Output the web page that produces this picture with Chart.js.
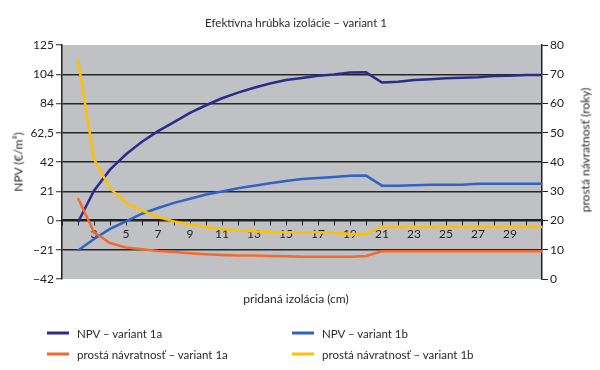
<!DOCTYPE html>
<html>
<head>
<meta charset="utf-8">
<script src="https://cdn.jsdelivr.net/npm/chart.js@4.4.1/dist/chart.umd.min.js"></script>
<style>
  html, body { margin: 0; padding: 0; background: #fff; }
  #wrap { position: relative; width: 600px; height: 370px; font-family: Lato, "Noto Sans", sans-serif; color: #2a2a2a; }
  canvas { position: absolute; left: 0; top: 0; }
  .lbl { position: absolute; white-space: nowrap; transform: translate(-50%, -50%); }
  .rot { transform: translate(-50%, -50%) rotate(-90deg); }
  .leg { position: absolute; white-space: nowrap; font-size: 11.5px; display: flex; align-items: center; transform: translateY(-50%); }
  .leg i { display: inline-block; width: 22px; height: 2.5px; margin-right: 8px; }
</style>
</head>
<body>
<div id="wrap">
  <canvas id="c" width="600" height="370"></canvas>
  <div class="lbl" id="title" style="left:296px; top:22px; font-size:11.5px;"></div>
  <div class="lbl" id="xtitle" style="left:296px; top:298px; font-size:12px;"></div>
  <div class="lbl rot" id="ytitle" style="left:18px; top:162px; font-size:12px;"></div>
  <div class="lbl rot" id="y1title" style="left:585px; top:150px; font-size:12px;"></div>
  <div id="legend"></div>
</div>
<script>
// ---- data ----
const chartTitle = 'Efektívna hrúbka izolácie – variant 1';
const xTitle = 'pridaná izolácia (cm)';
const yTitle = 'NPV (€/m²)';
const y1Title = 'prostá návratnosť (roky)';

const categories = ['1','2','3','4','5','6','7','8','9','10','11','12','13','14','15','16','17','18','19','20','21','22','23','24','25','26','27','28','29','30','31'];
const xTickShown = ['3','5','7','9','11','13','15','17','19','21','23','25','27','29'];

const seriesNames = ['NPV – variant 1a', 'NPV – variant 1b', 'prostá návratnosť – variant 1a', 'prostá návratnosť – variant 1b'];

const npv1a = [null, -1.5, 21, 36, 47, 56, 63.5, 70, 76.5, 82, 87, 91, 94.5, 97.5, 100, 101.5, 103, 104, 105.3, 105.5, 98.2, 98.8, 100, 100.6, 101.2, 101.7, 102, 102.8, 103, 103.6, 103.6];
const npv1b = [null, -21.7, -13.4, -6.2, -0.8, 4.6, 8.7, 12.3, 15.3, 18.3, 20.5, 22.8, 24.6, 26.3, 27.9, 29.3, 30, 30.8, 31.7, 31.8, 24.6, 24.6, 24.9, 25.3, 25.3, 25.3, 26, 26, 26, 26, 26];
const payback1a = [null, 27.7, 16, 12.3, 10.8, 10.2, 9.6, 9.2, 8.8, 8.5, 8.2, 8.0, 8.0, 7.9, 7.8, 7.6, 7.6, 7.6, 7.6, 7.9, 9.5, 9.5, 9.5, 9.5, 9.5, 9.5, 9.5, 9.5, 9.5, 9.5, 9.5];
const payback1b = [null, 75, 41, 31, 26, 23.4, 21.2, 19.7, 18.6, 17.8, 17.1, 16.6, 16.3, 16.1, 16, 16, 16, 15.8, 15.4, 15.4, 17.8, 17.8, 17.8, 17.8, 17.8, 17.8, 17.8, 17.8, 17.8, 17.8, 17.8];

const yTickLabels = ['−42', '−21', '0', '21', '42', '62,5', '84', '104', '125'];
const y1TickLabels = ['0', '10', '20', '30', '40', '50', '60', '70', '80'];

// ---- styles ----
const colors = ['#2f2a8c', '#2f64c4', '#f46a2c', '#ffc000'];
const FONT = 'Lato, "Noto Sans", sans-serif';

document.getElementById('title').textContent = chartTitle;
document.getElementById('xtitle').textContent = xTitle;
document.getElementById('ytitle').textContent = yTitle;
document.getElementById('y1title').textContent = y1Title;

const legendPos = [[47, 333], [292, 333], [47, 354], [292, 354]];
const legend = document.getElementById('legend');
seriesNames.forEach((n, i) => {
  const d = document.createElement('div');
  d.className = 'leg';
  d.style.left = legendPos[i][0] + 'px';
  d.style.top = legendPos[i][1] + 'px';
  const sw = document.createElement('i');
  sw.style.background = colors[i];
  d.appendChild(sw);
  d.appendChild(document.createTextNode(n));
  legend.appendChild(d);
});

const bgPlugin = {
  id: 'plotBg',
  beforeDraw(chart) {
    const a = chart.chartArea, ctx = chart.ctx;
    ctx.save();
    ctx.fillStyle = '#c0c1c4';
    ctx.fillRect(a.left, a.top, a.right - a.left, a.bottom - a.top);
    ctx.restore();
  }
};

const ds = (label, data, color, axis, order) => ({
  label, data, borderColor: color, backgroundColor: color, yAxisID: axis,
  borderWidth: 2.5, pointRadius: 0, tension: 0, fill: false, order
});

new Chart(document.getElementById('c'), {
  type: 'line',
  data: {
    labels: categories,
    datasets: [
      ds(seriesNames[0], npv1a, colors[0], 'y', 4),
      ds(seriesNames[1], npv1b, colors[1], 'y', 3),
      ds(seriesNames[2], payback1a, colors[2], 'y1', 2),
      ds(seriesNames[3], payback1b, colors[3], 'y1', 1)
    ]
  },
  options: {
    responsive: false,
    animation: false,
    devicePixelRatio: 1,
    layout: { padding: { top: 45, bottom: 91, left: 0, right: 0 } },
    plugins: { legend: { display: false }, title: { display: false }, tooltip: { enabled: false } },
    scales: {
      x: {
        type: 'category',
        position: { y: 0 },
        offset: false,
        grid: { display: true, drawOnChartArea: false, drawTicks: true, tickLength: 5, tickColor: '#222', tickWidth: 1 },
        border: { display: true, color: '#1e1e1e', width: 1.5 },
        ticks: {
          autoSkip: false, maxRotation: 0, padding: 2, color: '#222',
          font: { family: FONT, size: 12 },
          callback: function(v, i) { const l = categories[i]; return xTickShown.includes(l) ? l : ''; }
        }
      },
      y: {
        type: 'linear', position: 'left', min: -42, max: 125,
        afterFit(s) { s.width = 62; },
        grid: {
          color: (c) => (c.index === 0 || c.index === 8) ? 'rgba(0,0,0,0)' : '#262626',
          lineWidth: 1.5, tickLength: 6, tickColor: '#222', tickWidth: 1
        },
        border: { display: true, color: '#222', width: 1.5 },
        ticks: {
          stepSize: 20.875, padding: 2, color: '#222', font: { family: FONT, size: 12 },
          callback: (v, i) => yTickLabels[i]
        }
      },
      y1: {
        type: 'linear', position: 'right', min: 0, max: 80,
        afterFit(s) { s.width = 58; },
        grid: { drawOnChartArea: false, tickLength: 6, tickColor: '#222', tickWidth: 1 },
        border: { display: true, color: '#222', width: 1.5 },
        ticks: {
          stepSize: 10, padding: 2, color: '#222', font: { family: FONT, size: 12 },
          callback: (v, i) => y1TickLabels[i]
        }
      }
    }
  },
  plugins: [bgPlugin]
});
</script>
</body>
</html>
